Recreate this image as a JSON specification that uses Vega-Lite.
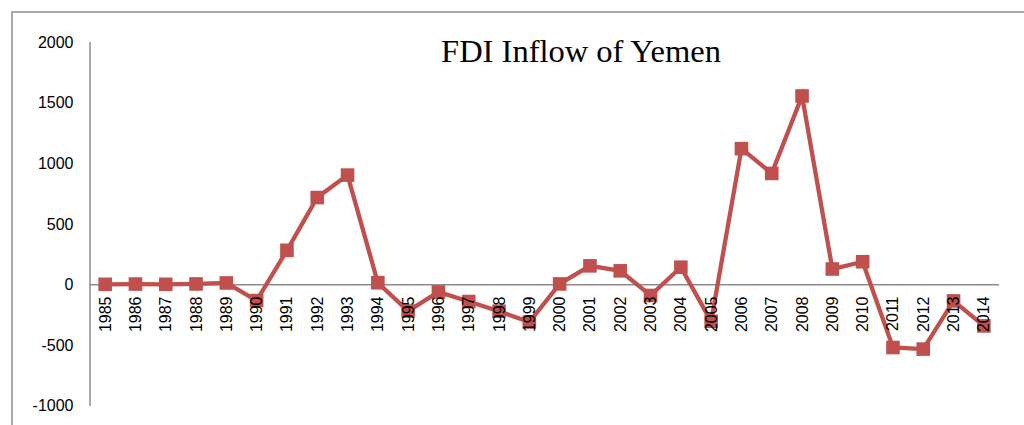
{
  "$schema": "https://vega.github.io/schema/vega-lite/v6.json",
  "autosize": "none",
  "padding": {"left": 12, "top": 12, "right": 0, "bottom": 0},
  "width": 1020,
  "height": 420,
  "background": "white",
  "title": {
    "text": "FDI Inflow of Yemen",
    "font": "Liberation Serif",
    "fontSize": 32.5,
    "fontWeight": "normal",
    "color": "black",
    "anchor": "middle",
    "baseline": "alphabetic",
    "offset": -50,
    "dy": 32,
    "dx": 59
  },
  "config": {
    "view": {"stroke": "#8c8c8c", "strokeWidth": 1.5},
    "axis": {
      "domain": false,
      "ticks": false,
      "grid": false,
      "title": null,
      "labelFont": "Liberation Sans",
      "labelFontSize": 16,
      "labelColor": "black",
      "labelOverlap": false,
      "labelFlush": false,
      "labelBound": false
    },
    "axisX": {"labelAngle": -90, "labelPadding": 12, "labelOverlap": false},
    "axisY": {"labelPadding": 17},
    "axisQuantitative": {"labelOverlap": false}
  },
  "data": {
    "values": [
      {"year": 1985, "fdi": 3},
      {"year": 1986, "fdi": 5},
      {"year": 1987, "fdi": 3},
      {"year": 1988, "fdi": 6},
      {"year": 1989, "fdi": 14},
      {"year": 1990, "fdi": -131},
      {"year": 1991, "fdi": 283},
      {"year": 1992, "fdi": 718},
      {"year": 1993, "fdi": 903},
      {"year": 1994, "fdi": 16},
      {"year": 1995, "fdi": -218},
      {"year": 1996, "fdi": -60},
      {"year": 1997, "fdi": -139},
      {"year": 1998, "fdi": -219},
      {"year": 1999, "fdi": -308},
      {"year": 2000, "fdi": 6},
      {"year": 2001, "fdi": 155},
      {"year": 2002, "fdi": 114},
      {"year": 2003, "fdi": -89},
      {"year": 2004, "fdi": 144},
      {"year": 2005, "fdi": -302},
      {"year": 2006, "fdi": 1121},
      {"year": 2007, "fdi": 917},
      {"year": 2008, "fdi": 1555},
      {"year": 2009, "fdi": 129},
      {"year": 2010, "fdi": 189},
      {"year": 2011, "fdi": -518},
      {"year": 2012, "fdi": -531},
      {"year": 2013, "fdi": -134},
      {"year": 2014, "fdi": -340}
    ]
  },
  "encoding": {
    "x": {
      "field": "year",
      "type": "quantitative",
      "title": null,
      "scale": {"domain": [1981.926, 2015.589], "nice": false, "zero": false},
      "axis": {
        "orient": "bottom",
        "offset": -148,
        "zindex": 2,
        "values": [1985,1986,1987,1988,1989,1990,1991,1992,1993,1994,1995,1996,1997,1998,1999,2000,2001,2002,2003,2004,2005,2006,2007,2008,2009,2010,2011,2012,2013,2014],
        "format": "d",
        "labelAngle": -90,
        "labelFontSize": 16,
        "labelPadding": 12,
        "labelOverlap": false,
        "labelSeparation": 0
      }
    },
    "y": {
      "field": "fdi",
      "type": "quantitative",
      "title": null,
      "scale": {"domain": [-1214.3, 2247.3], "nice": false, "zero": false},
      "axis": {
        "orient": "left",
        "offset": -78,
        "values": [-1000, -500, 0, 500, 1000, 1500, 2000],
        "labelExpr": "'' + datum.value",
        "labelFontSize": 16,
        "labelPadding": 17
      }
    }
  },
  "layer": [
    {
      "data": {"values": [{"year": 1984.5, "year2": 2014.5, "fdi": 0}]},
      "mark": {"type": "rule", "color": "#8c8c8c", "strokeWidth": 1.5},
      "encoding": {
        "x2": {"field": "year2"}
      }
    },
    {
      "data": {"values": [{"year": 1984.5, "fdi": -1000, "fdi2": 2000}]},
      "mark": {"type": "rule", "color": "#8c8c8c", "strokeWidth": 1.5},
      "encoding": {
        "y2": {"field": "fdi2"}
      }
    },
    {
      "mark": {"type": "line", "color": "#C0504D", "strokeWidth": 4.3}
    },
    {
      "mark": {"type": "point", "shape": "square", "filled": true, "color": "#C0504D", "opacity": 1, "size": 185}
    }
  ]
}
